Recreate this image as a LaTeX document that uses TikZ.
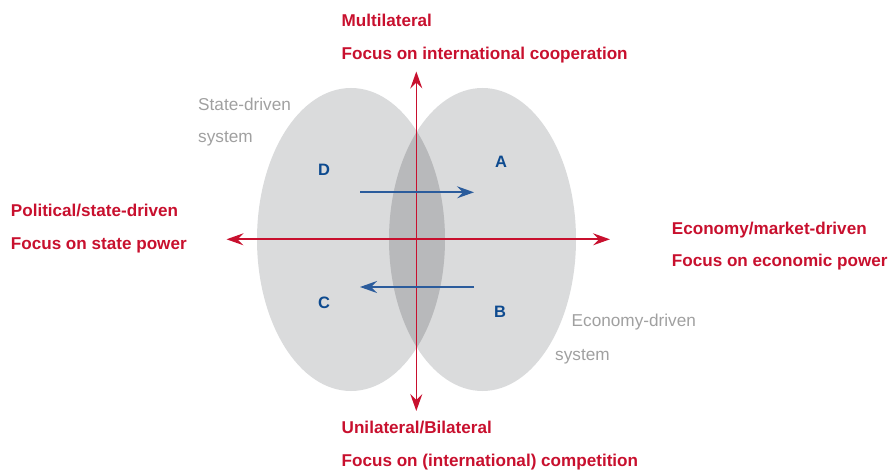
\documentclass[tikz,border=0pt]{standalone}
\usepackage{xcolor}
\usepackage{fontspec}
\setmainfont{Liberation Sans}
\usepackage{tikz}
\usetikzlibrary{arrows.meta}

\definecolor{axisred}{HTML}{C8102E}
\definecolor{quadblue}{HTML}{0D4A8F}
\definecolor{shiftblue}{HTML}{2B5C9C}
\definecolor{systemgray}{HTML}{DADBDC}
\definecolor{overlapgray}{HTML}{B8B9BB}
\definecolor{labelgray}{HTML}{A0A0A0}

\tikzset{
  axis/.style={draw=axisred, line width=1.6pt,
    {Stealth[length=17pt,width=12pt,inset=6pt]}-{Stealth[length=17pt,width=12pt,inset=6pt]}},
  shiftarrow/.style={draw=shiftblue, line width=1.6pt,
    -{Stealth[length=17pt,width=12pt,inset=6pt]}},
  axislabel/.style={anchor=base west, inner sep=0pt, text=axisred,
    font=\fontsize{17.1}{20}\selectfont\bfseries},
  systemlabel/.style={anchor=base west, inner sep=0pt, text=labelgray,
    font=\fontsize{17.2}{20}\selectfont},
  quadrant/.style={inner sep=0pt, text=quadblue,
    font=\fontsize{16.5}{18}\selectfont\bfseries}
}

\begin{document}
\begin{tikzpicture}[x=1pt,y=-1pt]
  \useasboundingbox (0,0) rectangle (889,470);

  % the two systems and their overlap
  \fill[systemgray] (351,239.5) ellipse [x radius=94pt, y radius=151.5pt];
  \fill[systemgray] (482.5,239.5) ellipse [x radius=93.5pt, y radius=151.5pt];
  \begin{scope}
    \clip (351,239.5) ellipse [x radius=94pt, y radius=151.5pt];
    \fill[overlapgray] (482.5,239.5) ellipse [x radius=93.5pt, y radius=151.5pt];
  \end{scope}

  % axes
  \coordinate (west) at (226.5,239.3);
  \coordinate (east) at (610,239.3);
  \coordinate (north) at (416.3,71.5);
  \coordinate (south) at (416.3,411);
  \draw[axis] (west) -- (east);
  \draw[axis] (north) -- (south);

  % shifts between quadrants
  \coordinate (dStart) at (360,192.3);
  \coordinate (aEnd) at (474,192.3);
  \coordinate (bStart) at (474,287);
  \coordinate (cEnd) at (360,287);
  \draw[shiftarrow] (dStart) -- (aEnd);
  \draw[shiftarrow] (bStart) -- (cEnd);

  % quadrants
  \node[quadrant] (D) at (324,170) {D};
  \node[quadrant] (A) at (501,161.7) {A};
  \node[quadrant] (C) at (324,303) {C};
  \node[quadrant] (B) at (500,311.7) {B};

  % system labels
  \node[systemlabel] (state) at (198,110.7) {State-driven};
  \node[systemlabel] (stateSys) at (198,143) {system};
  \node[systemlabel] (economy) at (571.5,326.7) {Economy-driven};
  \node[systemlabel] (economySys) at (555,360) {system};

  % axis labels
  \node[axislabel] (multi) at (341.5,27) {Multilateral};
  \node[axislabel] (coop) at (341.5,60) {Focus on international cooperation};
  \node[axislabel] (uni) at (341.5,433.3) {Unilateral/Bilateral};
  \node[axislabel] (comp) at (341.5,466.7) {Focus on (international) competition};
  \node[axislabel] (political) at (10.7,216.7) {Political/state-driven};
  \node[axislabel] (statePower) at (10.7,250) {Focus on state power};
  \node[axislabel] (market) at (671.7,234.3) {Economy/market-driven};
  \node[axislabel] (ecoPower) at (671.7,266.7) {Focus on economic power};
\end{tikzpicture}
\end{document}
